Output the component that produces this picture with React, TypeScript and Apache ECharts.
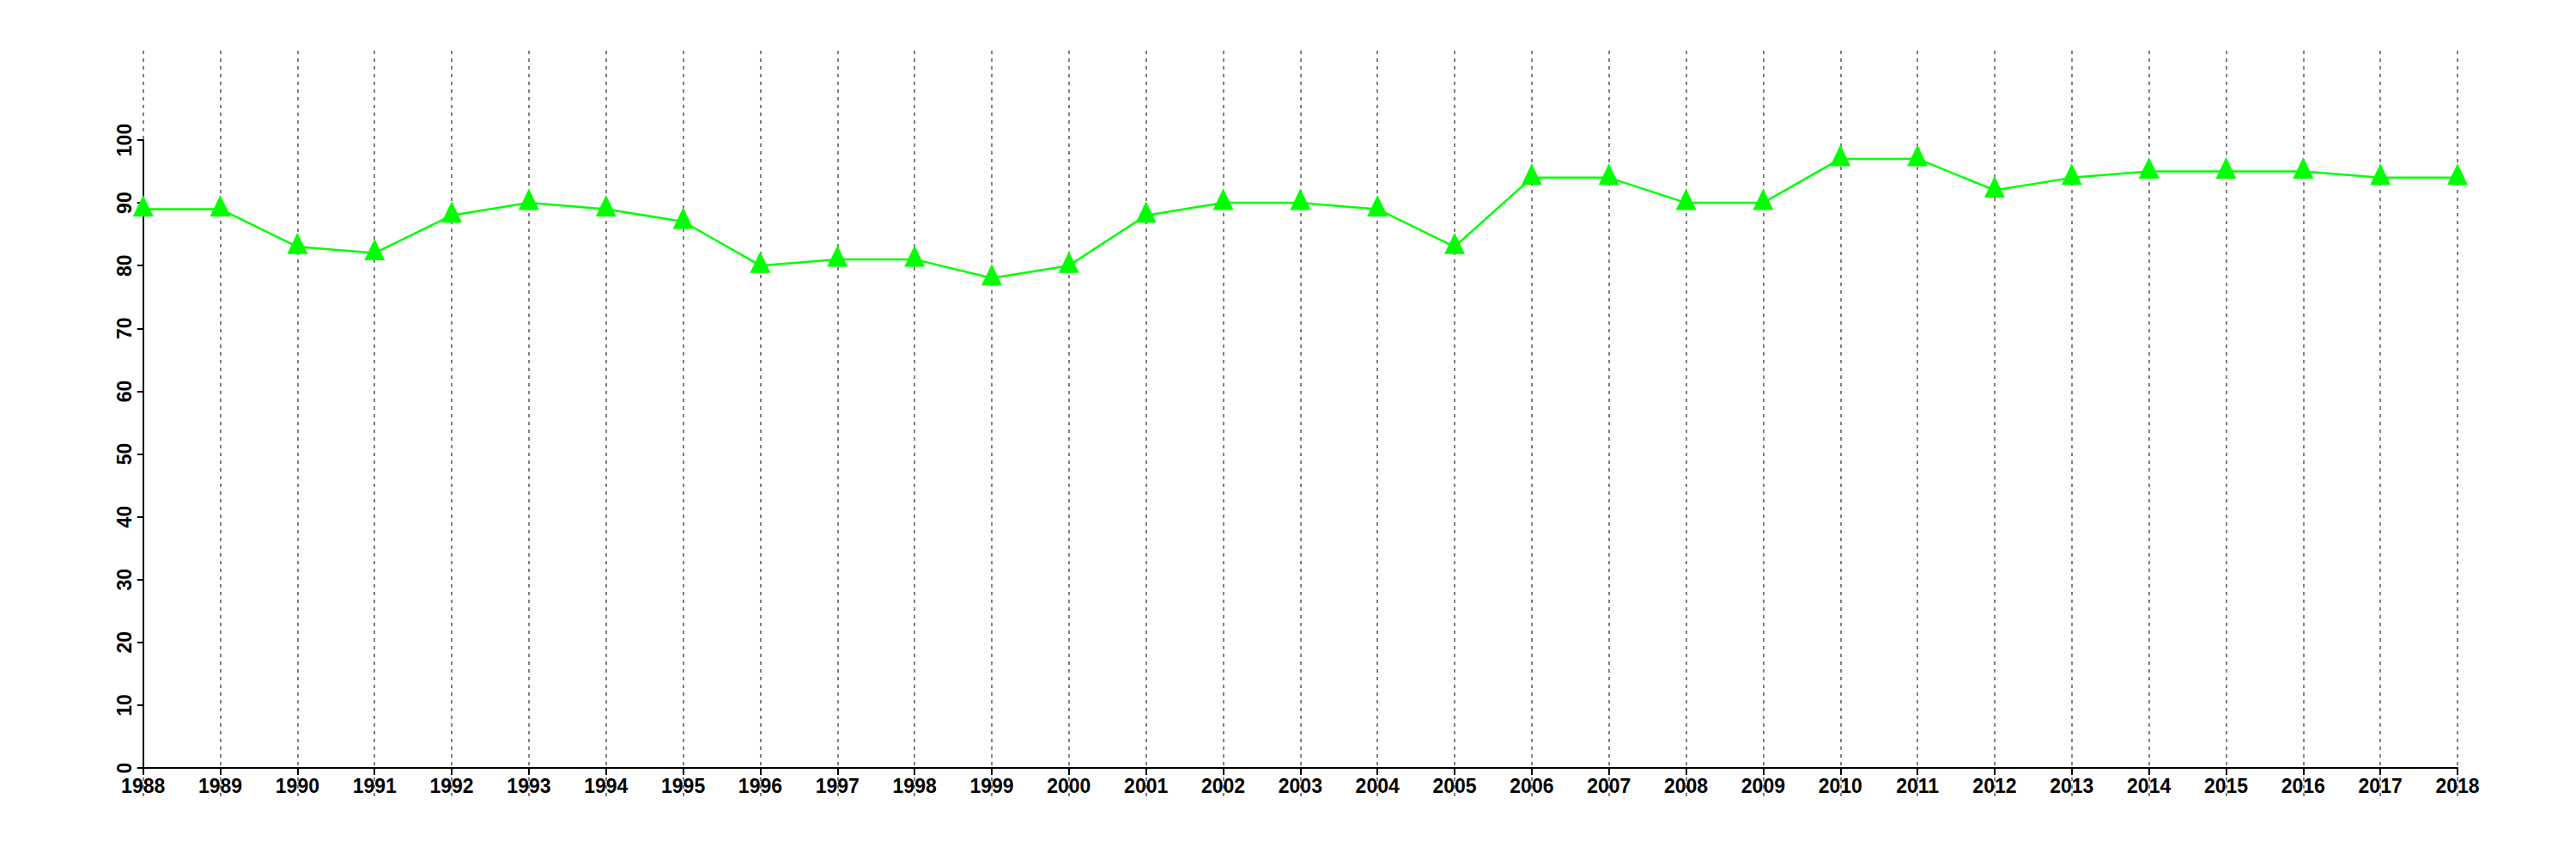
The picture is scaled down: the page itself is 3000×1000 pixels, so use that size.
import React, { useEffect, useRef } from "react";
import * as echarts from "echarts";

const years = [
  "1988", "1989", "1990", "1991", "1992", "1993", "1994", "1995", "1996", "1997",
  "1998", "1999", "2000", "2001", "2002", "2003", "2004", "2005", "2006", "2007",
  "2008", "2009", "2010", "2011", "2012", "2013", "2014", "2015", "2016", "2017", "2018",
];
const values = [
  89, 89, 83, 82, 88, 90, 89, 87, 80, 81,
  81, 78, 80, 88, 90, 90, 89, 83, 94, 94,
  90, 90, 97, 97, 92, 94, 95, 95, 95, 94, 94,
];
const yMin = 0;
const yMax = 100;
const yStep = 10;

const FONT = "'Liberation Sans', Arial, Helvetica, sans-serif";

export default function App() {
  const ref = useRef<HTMLDivElement>(null);
  useEffect(() => {
    document.body.style.margin = "0";
    if (!ref.current) return;
    const chart = echarts.init(ref.current, null, { renderer: "svg" });
    const left = 166.7;
    const right = 138;
    chart.setOption({
      animation: false,
      backgroundColor: "#ffffff",
      grid: [
        { left, right, top: 163, bottom: 106 },
        { left, right, top: 59, bottom: 73 },
      ],
      xAxis: [
        {
          type: "category",
          gridIndex: 0,
          data: years,
          boundaryGap: false,
          axisLine: { show: true, onZero: false, lineStyle: { color: "#000", width: 2 } },
          axisTick: { show: true, inside: false, length: 8, interval: 0, lineStyle: { color: "#000", width: 2 } },
          axisLabel: {
            show: true,
            interval: 0,
            margin: 9,
            color: "#000",
            fontFamily: FONT,
            fontWeight: "bold",
            fontSize: 23,
          },
          splitLine: { show: false },
          z: 5,
        },
        {
          type: "category",
          gridIndex: 1,
          data: years,
          boundaryGap: false,
          axisLine: { show: false },
          axisTick: { show: false },
          axisLabel: { show: false },
          splitLine: {
            show: true,
            interval: 0,
            lineStyle: { color: "#808080", width: 2, type: [4, 5] },
          },
          z: 0,
        },
      ],
      yAxis: [
        {
          type: "value",
          gridIndex: 0,
          min: yMin,
          max: yMax,
          interval: yStep,
          axisLine: { show: true, lineStyle: { color: "#000", width: 2 } },
          axisTick: { show: true, inside: false, length: 7, lineStyle: { color: "#000", width: 2 } },
          axisLabel: {
            show: true,
            rotate: 90,
            margin: 10,
            color: "#000",
            fontFamily: FONT,
            fontWeight: "bold",
            fontSize: 23,
          },
          splitLine: { show: false },
          z: 5,
        },
        {
          type: "value",
          gridIndex: 1,
          show: false,
          min: 0,
          max: 1,
          splitLine: { show: false },
        },
      ],
      series: [
        {
          type: "line",
          xAxisIndex: 0,
          yAxisIndex: 0,
          data: values,
          color: "#00ff00",
          lineStyle: { color: "#00ff00", width: 2.5 },
          itemStyle: { color: "#00ff00" },
          symbol: "triangle",
          symbolSize: [24, 25],
          symbolOffset: [0, -4],
          showAllSymbol: true,
          z: 10,
        },
      ],
    });
    return () => chart.dispose();
  }, []);
  return <div ref={ref} style={{ width: 3000, height: 1000 }} />;
}
